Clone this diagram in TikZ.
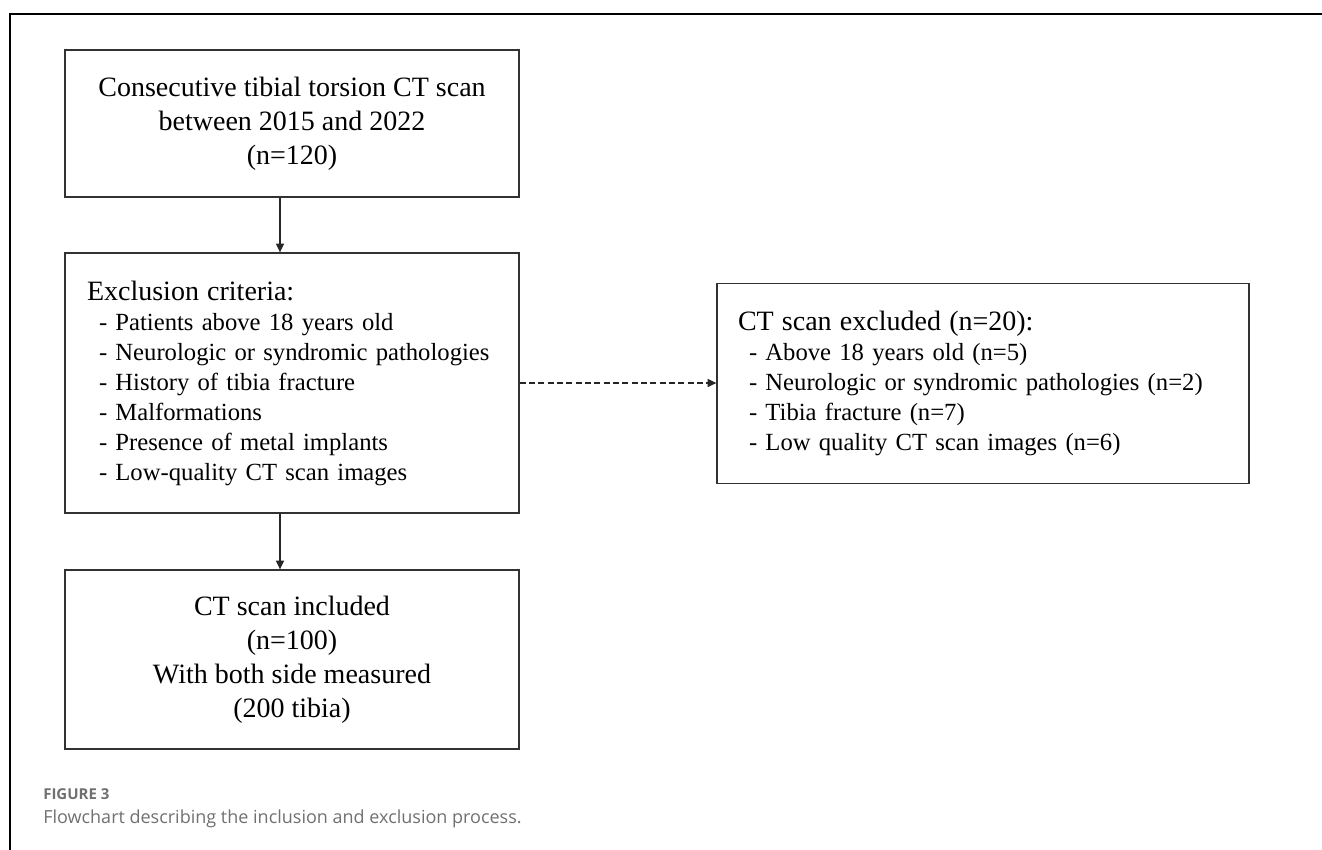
\documentclass[tikz,border=0pt]{standalone}
\usepackage{fontspec}
\setmainfont{Liberation Serif}
\setsansfont{Open Sans}
\usepackage{xcolor}
\usetikzlibrary{arrows.meta, positioning, calc}
\definecolor{boxline}{RGB}{50, 50, 50}
\definecolor{capgray}{RGB}{112, 112, 114}

\begin{document}
\begin{tikzpicture}[x=0.75pt, y=-0.75pt, >={Triangle[length=6.5pt, width=6pt]},
  flowbox/.style={draw=boxline, line width=1pt, rectangle, inner ysep=0pt},
  bigtext/.style={font=\fontsize{21}{25.5}\selectfont},
  listtext/.style={font=\fontsize{18.5}{22.5}\selectfont, align=left},
  flowarrow/.style={->, line width=0.8pt, black!85},
  skiparrow/.style={->, line width=0.8pt, black!85, dash pattern=on 4.5pt off 2.5pt}]
  \useasboundingbox (0,0) rectangle (1322,850);

  % outer frame (top and left only)
  \draw[line width=1.5pt] (1322,14) -- (9.5,14) -- (9.5,850);

  % main column
  \node[flowbox, bigtext, align=center, minimum width=340.5pt, minimum height=110.25pt]
    (start) at (292,123.5)
    {Consecutive tibial torsion CT scan\\ between 2015 and 2022\\ (n=120)};

  \node[flowbox, listtext, inner xsep=16.5pt, text width=307.5pt, minimum height=195pt]
    (criteria) at (292,383)
    {{\fontsize{21}{22.5}\selectfont Exclusion criteria:}\\
     \hspace*{9pt}- Patients above 18 years old\\
     \hspace*{9pt}- Neurologic or syndromic pathologies\\
     \hspace*{9pt}- History of tibia fracture\\
     \hspace*{9pt}- Malformations\\
     \hspace*{9pt}- Presence of metal implants\\
     \hspace*{9pt}- Low-quality CT scan images};

  \node[flowbox, bigtext, align=center, minimum width=340.5pt, minimum height=134.25pt]
    (included) at (292,659.5)
    {CT scan included\\ (n=100)\\ With both side measured\\ (200 tibia)};

  % side box
  \node[flowbox, listtext, inner xsep=15.75pt, text width=367.5pt, minimum height=150pt]
    (excluded) at (983,383.5)
    {{\fontsize{21}{22.5}\selectfont CT scan excluded (n=20):}\\
     \hspace*{8.25pt}- Above 18 years old (n=5)\\
     \hspace*{8.25pt}- Neurologic or syndromic pathologies (n=2)\\
     \hspace*{8.25pt}- Tibia fracture (n=7)\\
     \hspace*{8.25pt}- Low quality CT scan images (n=6)};

  % connectors
  \coordinate (spine) at (280,0);
  \draw[flowarrow] (start.south -| spine) -- (criteria.north -| spine);
  \draw[flowarrow] (criteria.south -| spine) -- (included.north -| spine);
  \draw[skiparrow] (criteria.east) -- (excluded.west |- criteria.east);

  % caption
  \node[anchor=base west, inner sep=0pt, text=capgray,
        font=\sffamily\bfseries\fontsize{11.25}{13}\selectfont] (figlabel) at (43,799) {FIGURE 3};
  \node[anchor=base west, inner sep=0pt, text=capgray,
        font=\sffamily\fontsize{13.5}{16}\selectfont] (caption) at (43,823)
    {Flowchart describing the inclusion and exclusion process.};
\end{tikzpicture}
\end{document}
